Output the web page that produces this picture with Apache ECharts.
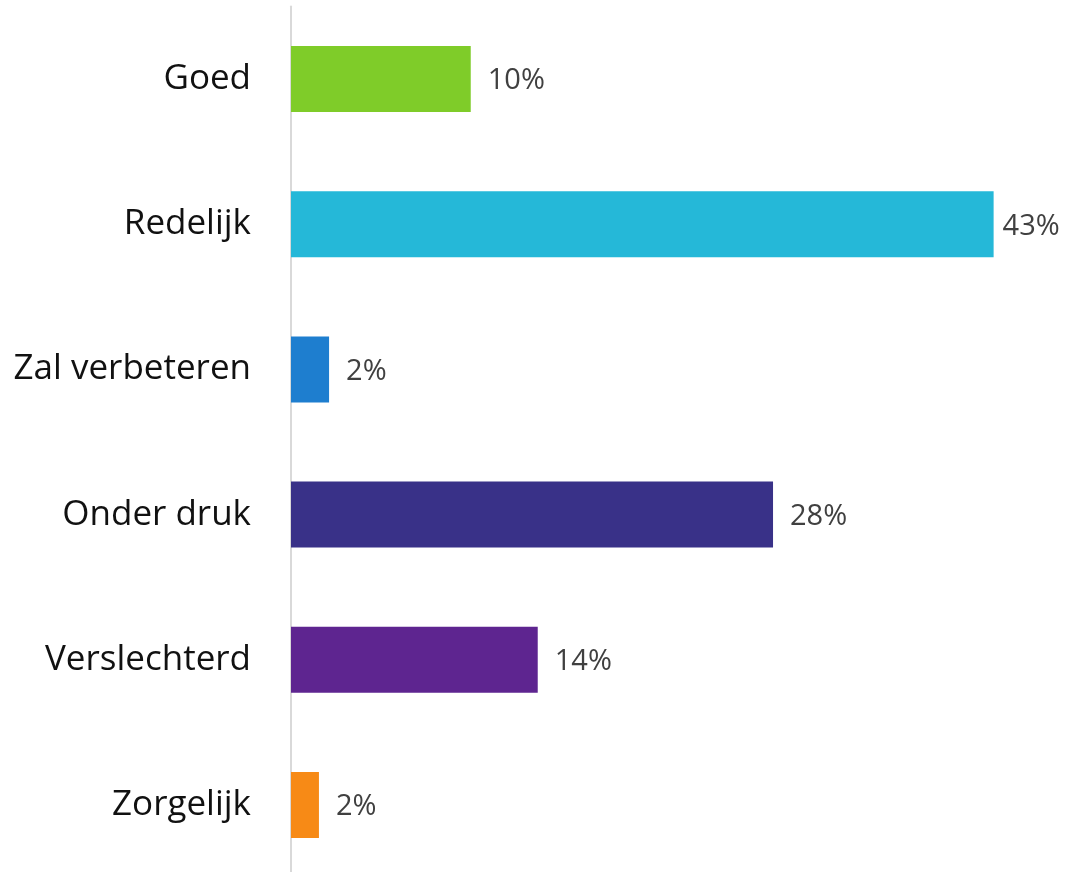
<!DOCTYPE html>
<html>
<head>
<meta charset="utf-8">
<script src="https://cdn.jsdelivr.net/npm/echarts@6/dist/echarts.min.js"></script>
<style>html,body{margin:0;padding:0;background:#fff}#c{width:1069px;height:872px}</style>
</head>
<body>
<div id="c"></div>
<script>
// Categories, top to bottom
const categories = ['Goed', 'Redelijk', 'Zal verbeteren', 'Onder druk', 'Verslechterd', 'Zorgelijk'];
// Bar lengths (percent scale)
const values = [11.0, 43.0, 2.33, 29.5, 15.1, 1.71];
// Value labels as printed in the picture
const valueLabels = ['10%', '43%', '2%', '28%', '14%', '2%'];
const colors = ['#7FCC29', '#25B8D8', '#1E7ECF', '#393188', '#5E2590', '#F78A16'];

const chart = echarts.init(document.getElementById('c'));
chart.setOption({
  animation: false,
  backgroundColor: '#ffffff',
  grid: { left: 291, width: 735.3, top: 6.5, height: 871, containLabel: false, outerBoundsMode: 'none' },
  xAxis: {
    type: 'value', min: 0, max: 45,
    show: false
  },
  yAxis: {
    type: 'category',
    data: categories,
    inverse: true,
    axisLine: { show: true, lineStyle: { color: '#d9d9d9', width: 2 } },
    axisTick: { show: false },
    axisLabel: {
      margin: 40,
      color: '#111111',
      fontFamily: 'Open Sans',
      fontSize: 35,
      padding: [3, 0, 0, 0]
    }
  },
  series: [{
    type: 'bar',
    barWidth: 66,
    data: values.map((v, i) => ({
      value: v,
      itemStyle: { color: colors[i] },
      label: { distance: i === 1 ? 9 : 17 }
    })),
    label: {
      show: true,
      position: 'right',
      color: '#404040',
      fontFamily: 'Open Sans',
      fontSize: 29,
      offset: [0, 2],
      formatter: p => valueLabels[p.dataIndex]
    }
  }]
});
</script>
</body>
</html>
